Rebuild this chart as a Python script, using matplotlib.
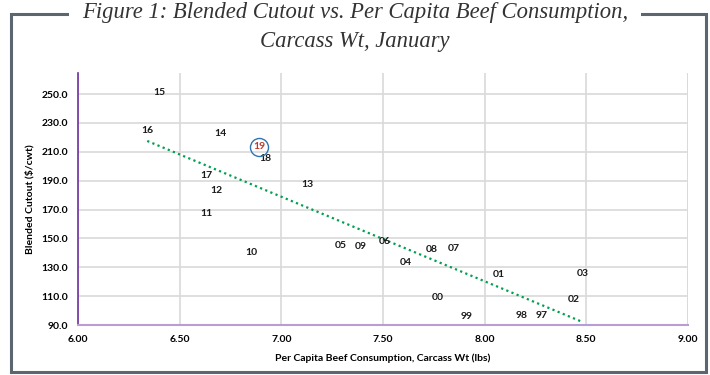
import matplotlib.pyplot as plt
import matplotlib.patches as mpatches
import numpy as np

# Datos: consumo per capita (lbs) vs cutout ($/cwt), etiquetas por año
years = ['97', '98', '99', '00', '01', '02', '03', '04', '05', '06', '07',
         '08', '09', '10', '11', '12', '13', '14', '15', '16', '17', '18', '19']
consumption = [8.28, 8.18, 7.91, 7.77, 8.07, 8.44, 8.48, 7.61, 7.29, 7.51, 7.85,
               7.74, 7.39, 6.85, 6.63, 6.68, 7.13, 6.70, 6.40, 6.34, 6.63, 6.92, 6.89]
cutout = [96.9, 96.9, 96.2, 109.4, 125.3, 108.0, 126.0, 133.7, 145.4, 148.2, 143.4,
          142.7, 144.1, 140.6, 167.6, 182.9, 187.7, 222.4, 250.8, 225.1, 193.3, 205.7, 213.4]
highlight = '19'

xticks = [6.0, 6.5, 7.0, 7.5, 8.0, 8.5, 9.0]
yticks = [90, 110, 130, 150, 170, 190, 210, 230, 250]

fig = plt.figure(figsize=(7.1, 3.75), dpi=100)
ax = fig.add_axes([0.110, 0.133, 0.859, 0.672])

# Marco exterior
frame = mpatches.Rectangle((0.0148, 0.008), 0.979, 0.955, transform=fig.transFigure,
                           fill=False, edgecolor='#5b6670', linewidth=2.2)
fig.patches.append(frame)

fig.text(0.5, 0.995, 'Figure 1: Blended Cutout vs. Per Capita Beef Consumption,\nCarcass Wt, January',
         ha='center', va='top', fontsize=16.3, style='italic', family='Liberation Serif',
         color='#333333', linespacing=1.5,
         bbox=dict(facecolor='white', edgecolor='none', pad=9))

# Etiquetas de datos
for x, y, lab in zip(consumption, cutout, years):
    col = '#c0392b' if lab == highlight else '#1a1a1a'
    ax.text(x, y, lab, ha='center', va='center', fontsize=7.5, fontweight='bold',
            family='Lato', color=col, zorder=4)
    if lab == highlight:
        ax.plot(x, y, 'o', markersize=13, mfc='none', mec='#2e75b6', mew=1.0, zorder=4)

# Linea de tendencia
m, b = np.polyfit(consumption, cutout, 1)
xs = np.array([min(consumption), max(consumption)])
ax.plot(xs, m * xs + b, linestyle=(0, (1, 1.5)), color='#00a050', linewidth=1.6, zorder=3)

ax.set_xlim(6.0, 9.0)
ax.set_ylim(90, 264.5)
ax.set_xticks(xticks)
ax.set_yticks(yticks)
ax.set_xticklabels([f'{t:.2f}' for t in xticks])
ax.set_yticklabels([f'{t:.1f}' for t in yticks])
ax.tick_params(length=0, labelsize=7.5, pad=7)
for lbl in ax.get_xticklabels() + ax.get_yticklabels():
    lbl.set_fontweight('bold')
    lbl.set_family('Lato')

ax.grid(True, color='#d9d9d9', linewidth=1.2)
ax.set_axisbelow(True)
ax.axvline(9.0, color='#d9d9d9', linewidth=1.2, zorder=0)

ax.spines['top'].set_visible(False)
ax.spines['right'].set_visible(False)
ax.spines['left'].set_color('#7030a0')
ax.spines['left'].set_linewidth(1.2)
ax.spines['bottom'].set_color('#b89cd6')
ax.spines['bottom'].set_linewidth(1.5)

ax.set_xlabel('Per Capita Beef Consumption, Carcass Wt (lbs)', fontsize=7.5,
              fontweight='bold', family='Lato', labelpad=7)
ax.set_ylabel('Blended Cutout ($/cwt)', fontsize=7.5, fontweight='bold', family='Lato',
              labelpad=5)

fig.savefig('out.png', dpi=100)
